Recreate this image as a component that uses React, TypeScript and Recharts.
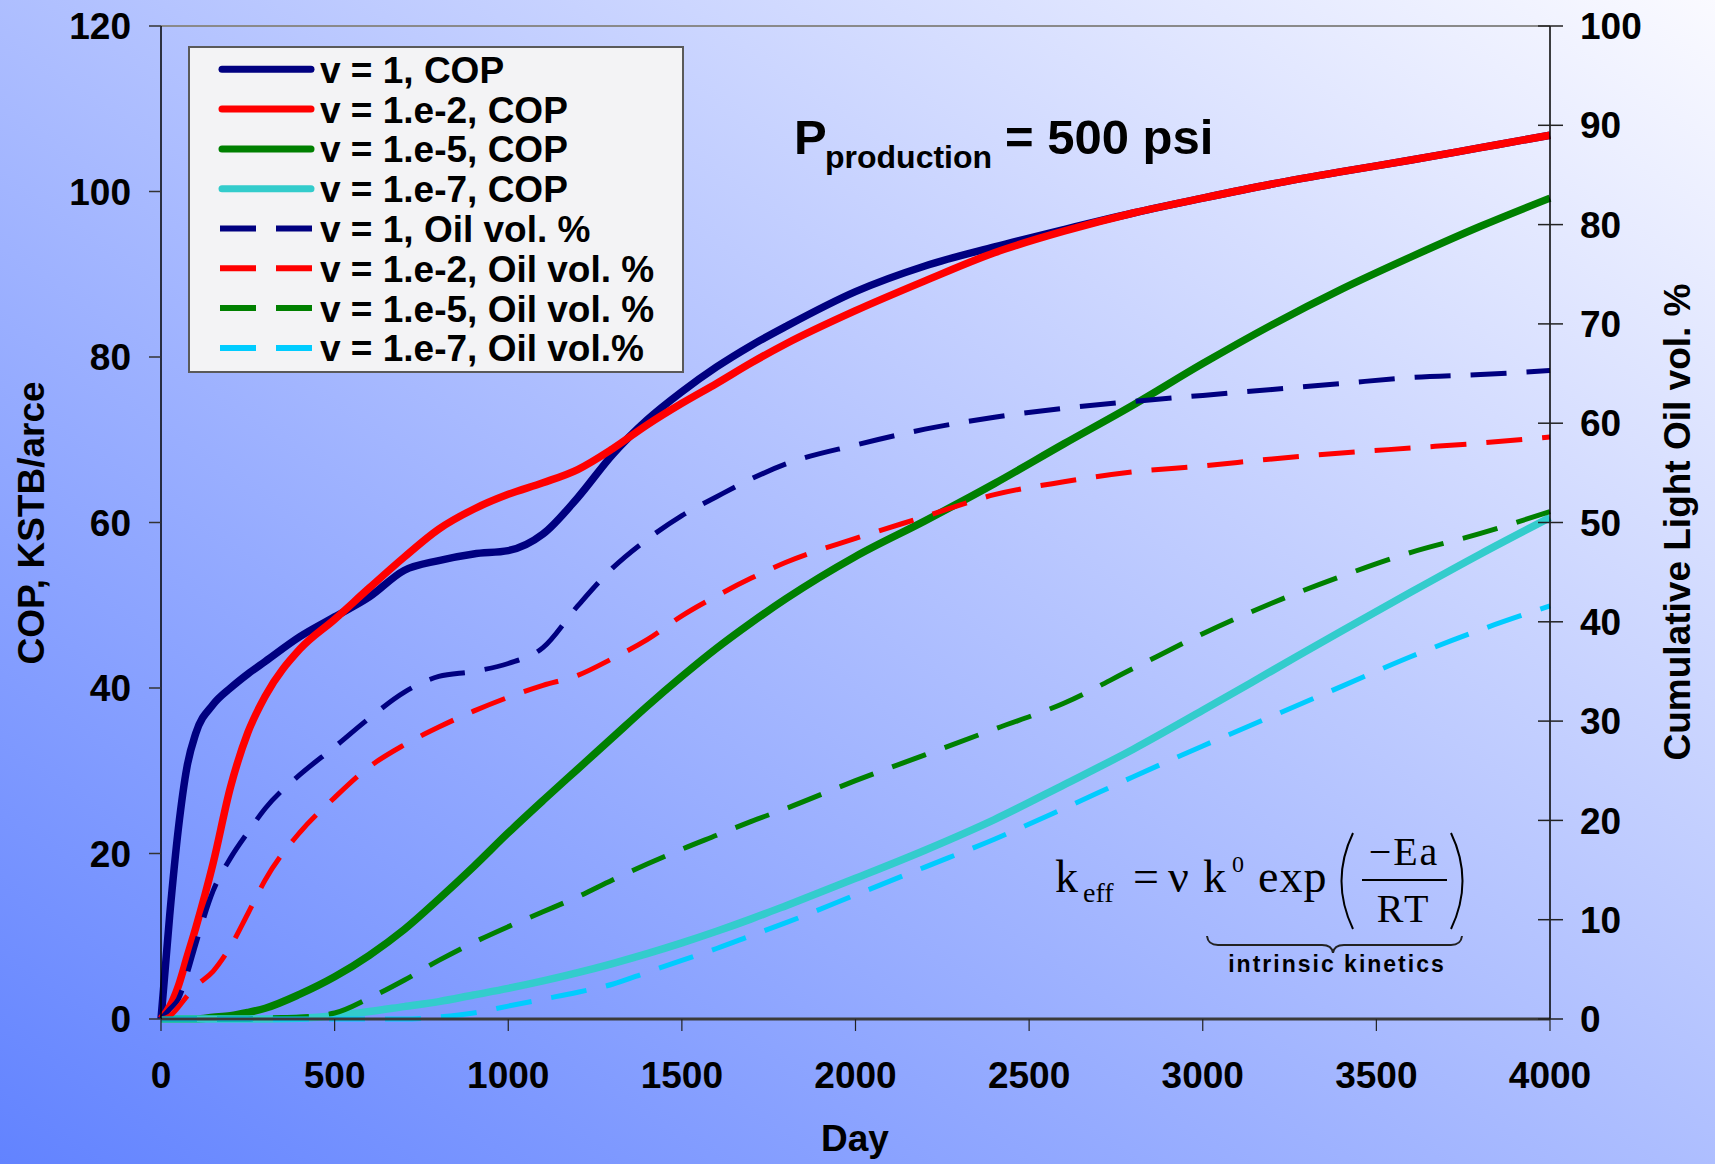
import { LineChart, Line, XAxis, YAxis, ReferenceLine } from "recharts";

// simulation output days
const days = [
  0, 25, 50, 75, 100, 150, 200, 250, 300, 400, 500, 600, 700, 800, 900, 1000,
  1100, 1200, 1300, 1400, 1500, 1600, 1700, 1800, 2000, 2200, 2400, 2600, 2800,
  3000, 3200, 3400, 3600, 3800, 4000,
];

// cumulative oil production, KSTB/acre
const copV1 = [
  0, 12.5, 23, 30.5, 34.5, 38, 40, 41.7, 43.2, 46.2, 48.6, 51, 54.2, 55.4, 56.2,
  56.6, 58.6, 63, 68.2, 72.4, 75.8, 78.8, 81.4, 83.7, 87.9, 91, 93.3, 95.4, 97.4,
  99.2, 100.9, 102.4, 103.8, 105.3, 106.8,
];
const copE2 = [
  0, 1.5, 4, 7.5, 11, 18.8, 28, 34.6, 39, 44.7, 48.3, 52.1, 55.8, 59.2, 61.6,
  63.4, 64.8, 66.4, 68.9, 71.8, 74.4, 76.8, 79.3, 81.6, 85.6, 89.2, 92.6, 95.2,
  97.4, 99.2, 100.9, 102.4, 103.8, 105.3, 106.8,
];
const copE5 = [
  0, 0, 0, 0, 0, 0.2, 0.4, 0.8, 1.3, 3, 5.1, 7.7, 10.8, 14.5, 18.4, 22.5, 26.4,
  30.2, 34, 37.8, 41.4, 44.8, 47.9, 50.8, 55.9, 60.2, 64.7, 69.5, 74.2, 79.2,
  83.9, 88.2, 92.1, 95.8, 99.2,
];
const copE7 = [
  0, 0, 0, 0, 0, 0, 0, 0, 0, 0.1, 0.4, 0.9, 1.5, 2.1, 2.9, 3.7, 4.6, 5.6, 6.7,
  7.9, 9.2, 10.6, 12.1, 13.7, 17, 20.4, 24.1, 28.3, 32.6, 37.3, 42.1, 46.9, 51.6,
  56.2, 60.6,
];

// cumulative light oil, vol. %
const oilV1 = [
  0, 1, 2, 4.5, 7.5, 12.9, 16.2, 18.8, 21.2, 24.6, 27.4, 30.3, 32.9, 34.5, 35,
  35.8, 37.4, 41.6, 45.4, 48.3, 50.7, 52.6, 54.4, 55.9, 57.8, 59.4, 60.6, 61.5,
  62.2, 62.8, 63.4, 64, 64.6, 64.9, 65.3,
];
const oilE2 = [
  0, 0.3, 1.2, 2.3, 3.3, 4.8, 7.3, 10.6, 14, 18.8, 22.3, 25.4, 27.6, 29.4, 31,
  32.4, 33.6, 34.6, 36.3, 38.2, 40.6, 42.6, 44.4, 46, 48.4, 50.6, 52.8, 54.1,
  55.1, 55.7, 56.4, 57, 57.5, 58, 58.6,
];
const oilE5 = [
  0, 0, 0, 0, 0, 0, 0, 0, 0.1, 0.2, 0.6, 2.1, 3.9, 5.9, 7.7, 9.3, 10.8, 12.3,
  14, 15.6, 17.1, 18.5, 19.9, 21.2, 24, 26.6, 29.2, 31.8, 35.3, 38.8, 41.9, 44.6,
  47, 48.9, 51.1,
];
const oilE7 = [
  0, 0, 0, 0, 0, 0, 0, 0, 0, 0, 0, 0, 0, 0.2, 0.6, 1.3, 2, 2.7, 3.5, 4.7, 5.9,
  7.1, 8.4, 9.7, 12.5, 15.3, 18.1, 21.2, 24.4, 27.5, 30.5, 33.5, 36.5, 39.2,
  41.6,
];

const dayTicks = [0, 500, 1000, 1500, 2000, 2500, 3000, 3500, 4000];
const copTicks = [0, 20, 40, 60, 80, 100, 120];
const oilTicks = [0, 10, 20, 30, 40, 50, 60, 70, 80, 90, 100];

const series = [
  { key: "copV1", name: "v = 1, COP", color: "#000080", axis: "cop", dashed: false },
  { key: "copE2", name: "v = 1.e-2, COP", color: "#ff0000", axis: "cop", dashed: false },
  { key: "copE5", name: "v = 1.e-5, COP", color: "#008000", axis: "cop", dashed: false },
  { key: "copE7", name: "v = 1.e-7, COP", color: "#33cccc", axis: "cop", dashed: false },
  { key: "oilV1", name: "v = 1, Oil vol. %", color: "#000080", axis: "oil", dashed: true },
  { key: "oilE2", name: "v = 1.e-2, Oil vol. %", color: "#ff0000", axis: "oil", dashed: true },
  { key: "oilE5", name: "v = 1.e-5, Oil vol. %", color: "#008000", axis: "oil", dashed: true },
  { key: "oilE7", name: "v = 1.e-7, Oil vol.%", color: "#00ccff", axis: "oil", dashed: true },
];

const rows = days.map((day, i) => ({
  day,
  copV1: copV1[i],
  copE2: copE2[i],
  copE5: copE5[i],
  copE7: copE7[i],
  oilV1: oilV1[i],
  oilE2: oilE2[i],
  oilE5: oilE5[i],
  oilE7: oilE7[i],
}));

const W = 1715;
const H = 1164;
const SANS = '"Liberation Sans", Arial, Helvetica, sans-serif';
const SERIF = '"Liberation Serif", "Times New Roman", serif';
const DASH = "36 20";

const tickFont = { fill: "#000", fontSize: 37, fontWeight: 700, fontFamily: SANS };

// right axis ticks cross the axis line
const R_TICK = 13;
const R_MARGIN = 17;
function OilTick(props: any) {
  const { x, y, payload } = props;
  const ax = x - R_TICK - R_MARGIN;
  return (
    <g>
      <line x1={ax - 12} x2={ax + R_TICK} y1={y} y2={y} stroke="#222" strokeWidth={1.5} />
      <text x={x} y={y} dy="0.355em" textAnchor="start" {...tickFont}>
        {payload.value}
      </text>
    </g>
  );
}

function LegendBox() {
  const top = 69.3;
  const step = 39.8;
  return (
    <g>
      <rect x={189} y={47} width={494} height={325} fill="#f3f3f5" stroke="#5a5a5a" strokeWidth={2} />
      {series.map((s, i) => {
        const y = top + i * step;
        return (
          <g key={s.key}>
            {s.dashed ? (
              <line x1={220} x2={312} y1={y} y2={y} stroke={s.color} strokeWidth={6} strokeDasharray={DASH} />
            ) : (
              <line x1={222} x2={311} y1={y} y2={y} stroke={s.color} strokeWidth={7} strokeLinecap="round" />
            )}
            <text x={320} y={y + 13.5} fontSize={37} fontWeight={700} fontFamily={SANS} fill="#000">
              {s.name}
            </text>
          </g>
        );
      })}
    </g>
  );
}

function Formula() {
  return (
    <g fontFamily={SERIF} fill="#000">
      <text x={1055} y={892} fontSize={46}>k</text>
      <text x={1083} y={902} fontSize={28}>eff</text>
      <text x={1133} y={892} fontSize={46}>=</text>
      <text x={1168} y={892} fontSize={46}>ν</text>
      <text x={1203} y={892} fontSize={46}>k</text>
      <text x={1232} y={872} fontSize={24}>0</text>
      <text x={1258} y={892} fontSize={46} letterSpacing={1}>exp</text>
      <path d="M1353 833 Q1330 881 1353 929" fill="none" stroke="#000" strokeWidth={2} />
      <text x={1404} y={865} fontSize={40} textAnchor="middle" letterSpacing={2}>−Ea</text>
      <line x1={1362} x2={1447} y1={880} y2={880} stroke="#000" strokeWidth={1.8} />
      <text x={1404} y={922} fontSize={40} textAnchor="middle" letterSpacing={3}>RT</text>
      <path d="M1451 833 Q1474 881 1451 929" fill="none" stroke="#000" strokeWidth={2} />
      <path
        d="M1207 936 Q1208 945 1218 945 L1322 945 Q1332 945 1333 953 Q1334 945 1344 945 L1451 945 Q1461 945 1462 936"
        fill="none"
        stroke="#222"
        strokeWidth={2}
      />
      <text
        x={1337}
        y={972}
        fontSize={23}
        fontWeight={700}
        fontFamily={SANS}
        textAnchor="middle"
        letterSpacing={2}
      >
        intrinsic kinetics
      </text>
    </g>
  );
}

export default function App() {
  return (
    <div
      style={{
        position: "absolute",
        left: 0,
        top: 0,
        width: W,
        height: H,
        background: "linear-gradient(to top right, #6283ff 0%, #fafaff 100%)",
        overflow: "hidden",
      }}
    >
      <LineChart width={W} height={H} data={rows} margin={{ top: 26, right: 85, bottom: 85, left: 81 }}>
        <XAxis
          dataKey="day"
          type="number"
          domain={[0, 4000]}
          ticks={dayTicks}
          interval={0}
          height={60}
          tickSize={12}
          tickMargin={31}
          axisLine={{ stroke: "#3a3a3a", strokeWidth: 3 }}
          tickLine={{ stroke: "#222", strokeWidth: 1.2 }}
          tick={tickFont}
        />
        <YAxis
          yAxisId="cop"
          orientation="left"
          domain={[0, 120]}
          ticks={copTicks}
          interval={0}
          width={80}
          tickSize={12}
          tickMargin={18}
          axisLine={{ stroke: "#000", strokeWidth: 1.5 }}
          tickLine={{ stroke: "#333", strokeWidth: 1.5 }}
          tick={tickFont}
        />
        <YAxis
          yAxisId="oil"
          orientation="right"
          domain={[0, 100]}
          ticks={oilTicks}
          interval={0}
          width={80}
          tickSize={R_TICK}
          tickMargin={R_MARGIN}
          axisLine={{ stroke: "#000", strokeWidth: 1.5 }}
          tickLine={false}
          tick={<OilTick />}
        />
        <ReferenceLine yAxisId="cop" y={120} stroke="#8a8a8a" strokeWidth={2} />
        {series.map((s) => (
          <Line
            key={s.key}
            yAxisId={s.axis}
            dataKey={s.key}
            name={s.name}
            type="monotone"
            stroke={s.color}
            strokeWidth={s.dashed ? 5 : 7.5}
            strokeDasharray={s.dashed ? DASH : undefined}
            dot={false}
            activeDot={false}
            isAnimationActive={false}
          />
        ))}
      </LineChart>

      <svg
        width={W}
        height={H}
        style={{ position: "absolute", left: 0, top: 0, pointerEvents: "none" }}
      >
        <text
          transform="translate(31,523) rotate(-90)"
          textAnchor="middle"
          dy="0.355em"
          fontSize={37}
          fontWeight={700}
          fontFamily={SANS}
        >
          COP, KSTB/arce
        </text>
        <text
          transform="translate(1677,522) rotate(-90)"
          textAnchor="middle"
          dy="0.355em"
          fontSize={37}
          fontWeight={700}
          fontFamily={SANS}
        >
          Cumulative Light Oil vol. %
        </text>
        <text x={855} y={1138} dy="0.355em" textAnchor="middle" fontSize={37} fontWeight={700} fontFamily={SANS}>
          Day
        </text>

        <g fontFamily={SANS} fontWeight={700} fill="#000">
          <text x={794} y={154} fontSize={49}>P</text>
          <text x={825} y={168} fontSize={32}>production</text>
          <text x={1005} y={154} fontSize={49}>= 500 psi</text>
        </g>

        <Formula />
        <LegendBox />
      </svg>
    </div>
  );
}
